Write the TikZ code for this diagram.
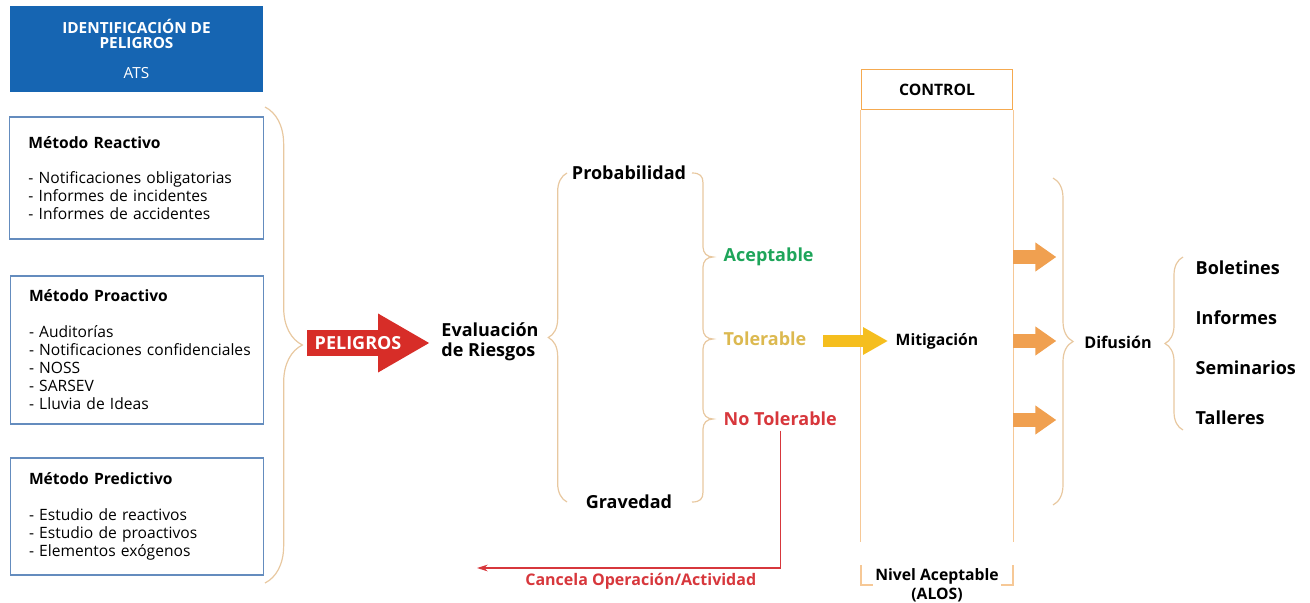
\documentclass[tikz,border=0pt]{standalone}
\usepackage{fontspec}
\setmainfont{Open Sans}
\usetikzlibrary{decorations.pathreplacing,arrows.meta}
\definecolor{idblue}{RGB}{22,101,178}
\definecolor{boxblue}{RGB}{100,140,190}
\definecolor{bracetan}{RGB}{232,200,160}
\definecolor{ctrlorange}{RGB}{245,170,80}
\definecolor{ctrlpale}{RGB}{246,200,150}
\definecolor{verde}{RGB}{30,165,90}
\definecolor{tolamarillo}{RGB}{220,185,80}
\definecolor{rojotexto}{RGB}{215,55,60}
\definecolor{rojoflecha}{RGB}{215,45,40}
\definecolor{amarillo}{RGB}{245,190,30}
\definecolor{naranja}{RGB}{240,160,80}
\begin{document}
\begin{tikzpicture}[x=0.75pt,y=-0.75pt,font=\fontsize{11.7}{13.5}\selectfont]
        \tikzset{idbox/.style = {fill=idblue, text=white, align=center, font=\bfseries\fontsize{11.5}{11.25}\selectfont, minimum width=190pt, minimum height=64.5pt}}
        \tikzset{metodo/.style = {draw=boxblue, line width=0.9pt, align=left, text width=162pt, inner xsep=14pt}}
        \tikzset{llave/.style = {draw=bracetan, line width=0.9pt, decorate, decoration={brace, amplitude=#1}}}
        \tikzset{midtext/.style = {font=\bfseries\fontsize{13.5}{15}\selectfont}}
        \tikzset{ctrltext/.style = {font=\bfseries\fontsize{11.8}{14.3}\selectfont}}
        \tikzset{ctrlline/.style = {draw=ctrlpale, line width=0.9pt}}
        \tikzset{pelarrow/.style = {draw=rojoflecha, line width=19.5pt, -{Triangle[length=39pt, width=41.25pt]}}}
        \tikzset{amarilla/.style = {draw=amarillo, line width=9pt, -{Triangle[length=18.75pt, width=19.5pt]}}}
        \tikzset{naranjaflecha/.style = {draw=naranja, line width=10.9pt, -{Triangle[length=15.75pt, width=20.8pt]}}}
        \useasboundingbox (0,0) rectangle (1310,603);

        \node[idbox] (ident) at (136.5,49) {IDENTIFICACIÓN DE\\PELIGROS\\[11.25pt]{\mdseries ATS}};
        \node[metodo, minimum height=91.5pt] (reactivo) at (136.5,178) {\textbf{Método Reactivo}\\[12.75pt]- Notificaciones obligatorias\\- Informes de incidentes\\- Informes de accidentes};
        \node[metodo, minimum height=111pt] (proactivo) at (137,350) {\textbf{Método Proactivo}\\[13.5pt]- Auditorías\\\mbox{- Notificaciones confidenciales}\\- NOSS\\- SARSEV\\- Lluvia de Ideas};
        \node[metodo, minimum height=87.75pt] (predictivo) at (137,516.5) {\textbf{Método Predictivo}\\[13.5pt]- Estudio de reactivos\\- Estudio de proactivos\\- Elementos exógenos};
        \draw[llave=28pt] (265,107) -- (265,583);

        \coordinate (peltail) at (307,343);
        \coordinate (peltip) at (430,343);
        \draw[pelarrow] (peltail) -- (peltip) node[pos=0.415, text=white, font=\bfseries\fontsize{13.5}{13.5}\selectfont] (peligros) {PELIGROS};

        \node[midtext, align=left] (eval) at (490,342) {Evaluación\\de Riesgos};
        \draw[llave=14pt] (567,502) -- (567,173);
        \node[midtext] (prob) at (629,173) {Probabilidad};
        \node[midtext] (grav) at (629,502) {Gravedad};
        \draw[draw=bracetan, line width=0.9pt] (692,173) .. controls (700,173) and (703,176) .. (703,183)
            -- (703,247) .. controls (703,253) and (707,257) .. (713,257)
            .. controls (707,257) and (703,261) .. (703,267)
            -- (703,329) .. controls (703,335) and (707,339) .. (713,339)
            .. controls (707,339) and (703,343) .. (703,349)
            -- (703,409) .. controls (703,415) and (707,419) .. (713,419)
            .. controls (707,419) and (703,423) .. (703,429)
            -- (703,492) .. controls (703,499) and (700,502) .. (692,502);
        \node[midtext, text=verde, anchor=west] (acep) at (719,257) {Aceptable};
        \node[midtext, text=tolamarillo, anchor=west] (tol) at (719,339) {Tolerable};
        \node[midtext, text=rojotexto, anchor=west] (notol) at (719,419) {No Tolerable};

        \coordinate (cancel) at (477,568);
        \draw[draw=rojotexto, line width=0.9pt, -{Stealth[length=8pt, width=5pt]}] (notol.south) |- (cancel)
            node[pos=0.73, below, text=rojotexto, font=\bfseries\fontsize{12}{12}\selectfont] (cancela) {Cancela Operación/Actividad};

        \node[draw=ctrlorange, line width=1.2pt, ctrltext, minimum width=113.25pt, minimum height=30pt] (ctrl) at (937,89.5) {CONTROL};
        \draw[ctrlline] (ctrl.south west) -- (ctrl.south west |- 0,542);
        \draw[ctrlline] (ctrl.south east) -- (ctrl.south east |- 0,542);
        \coordinate (ytail) at (823,341);
        \coordinate (ytip) at (888,341);
        \draw[amarilla] (ytail) -- (ytip);
        \node[ctrltext] (mitig) at (937,341) {Mitigación};
        \node[ctrltext, align=center] (alos) at (937,585) {Nivel Aceptable\\(ALOS)};
        \draw[ctrlline] (861,565) |- (873,585);
        \draw[ctrlline] (1013,565) |- (1001,585);

        \foreach \y in {257,341,420}
            \draw[naranjaflecha] (ctrl.east |- 0,\y) -- ++(43,0);
        \draw[llave=15pt] (1053,178) -- (1053,505);
        \node[midtext, font=\bfseries\fontsize{12.1}{12.1}\selectfont] (dif) at (1118,342) {Difusión};
        \draw[llave=13.5pt] (1183,430) -- (1183,257);
        \foreach \t/\y in {Boletines/268, Informes/318, Seminarios/368, Talleres/418}
            \node[midtext, anchor=west] (\t) at (1191,\y) {\t};
\end{tikzpicture}
\end{document}
